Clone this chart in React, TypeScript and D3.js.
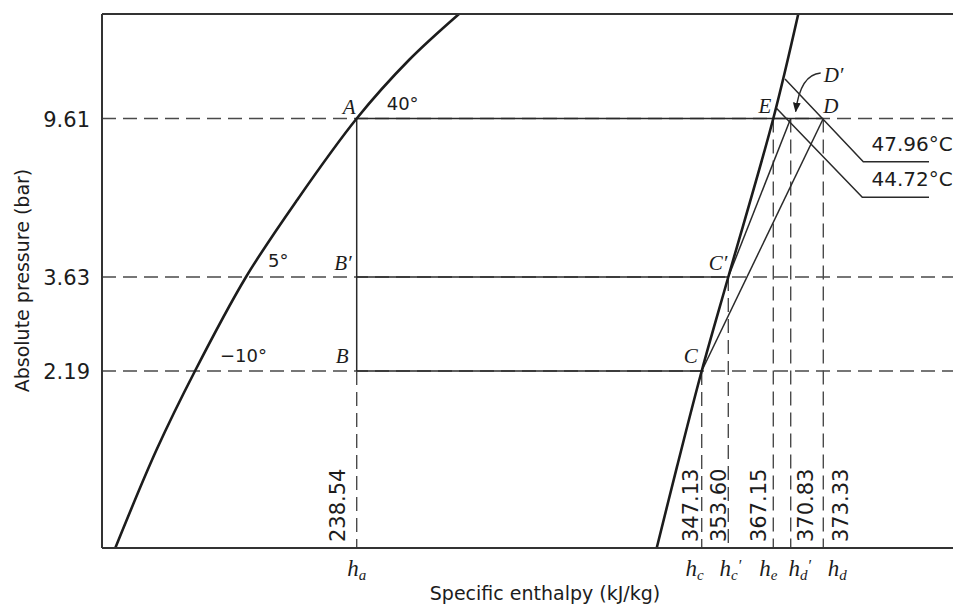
import React from "react";
import * as d3 from "d3";

const W = 953;
const H = 608;

// ---------- data ----------
const pressureLevels = [2.19, 3.63, 9.61]; // bar
const pressureTickLabels = ["2.19", "3.63", "9.61"];
const pressureExtent = [0.85, 18.3];

const enthalpyExtent = [159, 414];
const enthalpyMarks = [238.54, 347.13, 353.6, 367.15, 370.83, 373.33]; // kJ/kg
const enthalpyMarkLabels = ["238.54", "347.13", "353.60", "367.15", "370.83", "373.33"];
const enthalpySubscripts = ["a", "c", "c", "e", "d", "d"];
const enthalpyPrimes = ["", "", "′", "", "′", ""];

// saturated liquid line (h, p)
const liquidLineH = [163.15, 176.0, 188.04, 203.97, 219.9, 238.54, 255.0, 270.74];
const liquidLineP = [0.85, 1.435, 2.19, 3.63, 5.82, 9.61, 13.78, 18.3];
// saturated vapour line (h, p)
const vaporLineH = [332.97, 339.36, 347.13, 353.6, 367.15, 371.41];
const vaporLineP = [0.85, 1.313, 2.19, 3.63, 9.61, 18.3];

// saturation temperature labels on the liquid line
const satTempLabels = ["−10°", "5°", "40°"];
const satTempH = [188.04, 203.97, 238.54];
const satTempP = [2.19, 3.63, 9.61];

// cycle state points
const stateNames = ["A", "B′", "B", "C", "C′", "E", "D′", "D"];
const stateH = [238.54, 238.54, 238.54, 347.13, 353.6, 367.15, 370.83, 373.33];
const stateP = [9.61, 3.63, 2.19, 2.19, 3.63, 9.61, 9.61, 9.61];

// discharge isotherms
const isothermLabels = ["47.96°C", "44.72°C"];
const isothermThrough = ["D", "D′"];

// ---------- styles ----------
const INK = "#1c1c1c";
const THIN = "#2a2a2a";
const DASH = "#4a4a4a";
const SANS = "'DejaVu Sans', sans-serif";
const SERIF = "'Liberation Serif', 'DejaVu Serif', serif";

// label placements (pixel offsets)
const stateLabelStyle: Record<string, { dx: number; dy: number; anchor: string }> = {
  A: { dx: -1, dy: -5, anchor: "end" },
  "B′": { dx: -5, dy: -7, anchor: "end" },
  B: { dx: -8, dy: -8, anchor: "end" },
  C: { dx: -4, dy: -8, anchor: "end" },
  "C′": { dx: -1, dy: -7, anchor: "end" },
  E: { dx: -2, dy: -6, anchor: "end" },
  D: { dx: 0, dy: -6, anchor: "start" },
};
const satLabelOffset = [
  [25, -9],
  [22, -10],
  [30, -8.5],
];
const markLabelDx = [-11.7, -3.7, -2.5, -7, 22, 25];
const symbolDx = [0, -7, 2, -5, 9, 14];
const isoGeom = [
  { start: [-38.3, -39.5], bend: [40, 43.2] },
  { start: [-14, -10], bend: [71.6, 78.8] },
];

export default function App() {
  const x = d3
    .scaleLinear()
    .domain([enthalpyExtent[0], ...enthalpyMarks, enthalpyExtent[1]])
    .range([102, 356.7, 701.7, 728.3, 773.3, 790.7, 823.3, 953]);
  const y = d3
    .scaleLog()
    .domain([pressureExtent[0], ...pressureLevels, pressureExtent[1]])
    .range([548, 371, 277, 118.5, 14]);

  const line = d3
    .line<[number, number]>()
    .x((d) => x(d[0]))
    .y((d) => y(d[1]))
    .curve(d3.curveCatmullRom.alpha(0.5));

  const liquid = liquidLineH.map((h, i) => [h, liquidLineP[i]] as [number, number]);
  const vapor = vaporLineH.map((h, i) => [h, vaporLineP[i]] as [number, number]);

  const pt = (name: string) => {
    const i = stateNames.indexOf(name);
    return { x: x(stateH[i]), y: y(stateP[i]) };
  };
  const A = pt("A"), B = pt("B"), Bp = pt("B′"), C = pt("C"), Cp = pt("C′"), D = pt("D"), Dp = pt("D′");

  const x0 = x(enthalpyExtent[0]);
  const x1 = x(enthalpyExtent[1]);
  const yB = y(pressureExtent[0]);
  const yT = y(pressureExtent[1]);

  const markTop = [B.y, C.y, Cp.y, pt("E").y, Dp.y, D.y];

  const arrowStart = { x: Dp.x + 30, y: Dp.y - 45.5 };
  const arrowTip = { x: Dp.x + 5, y: Dp.y - 7 };

  return (
    <svg
      width={W}
      height={H}
      viewBox={`0 0 ${W} ${H}`}
      style={{ position: "absolute", left: 0, top: 0, display: "block", background: "#fff" }}
    >
      <defs>
        <marker id="arr" viewBox="0 0 10 10" refX="9" refY="5" markerWidth="7" markerHeight="7" orient="auto">
          <path d="M0,1 L10,5 L0,9 Z" fill={INK} />
        </marker>
      </defs>

      {/* dashed pressure lines */}
      {pressureLevels.map((p) => (
        <line key={"pd" + p} x1={x0} x2={x1} y1={y(p)} y2={y(p)} stroke={DASH} strokeWidth={1.4} strokeDasharray="14 7" />
      ))}
      {/* dashed enthalpy lines */}
      {enthalpyMarks.map((h, i) => (
        <line key={"hd" + h} x1={x(h)} x2={x(h)} y1={markTop[i]} y2={yB} stroke={DASH} strokeWidth={1.4} strokeDasharray="14 7" />
      ))}

      {/* cycle lines */}
      <g stroke={THIN} strokeWidth={1.5} fill="none">
        <line x1={A.x} x2={D.x} y1={A.y} y2={A.y} />
        <line x1={Bp.x} x2={Cp.x} y1={Bp.y} y2={Bp.y} />
        <line x1={B.x} x2={C.x} y1={B.y} y2={B.y} />
        <line x1={A.x} x2={B.x} y1={A.y} y2={B.y} />
        <line x1={C.x} x2={D.x} y1={C.y} y2={D.y} />
        <line x1={Cp.x} x2={Dp.x} y1={Cp.y} y2={Dp.y} />
      </g>

      {/* isotherms */}
      {isothermLabels.map((lab, i) => {
        const P = pt(isothermThrough[i]);
        const g = isoGeom[i];
        const sx = P.x + g.start[0], sy = P.y + g.start[1];
        const bx = P.x + g.bend[0], by = P.y + g.bend[1];
        return (
          <g key={lab}>
            <polyline points={`${sx},${sy} ${bx},${by} 929,${by}`} fill="none" stroke={THIN} strokeWidth={1.5} />
            <text x={871.5} y={by - 11} fontFamily={SANS} fontSize={20} fill={INK}>
              {lab}
            </text>
          </g>
        );
      })}

      {/* saturation curves */}
      <path d={line(liquid) || ""} fill="none" stroke={INK} strokeWidth={2.6} />
      <path d={line(vapor) || ""} fill="none" stroke={INK} strokeWidth={2.6} />

      {/* frame */}
      <g stroke="#333" strokeWidth={2} fill="none">
        <line x1={x0} x2={x1} y1={yT} y2={yT} />
        <line x1={x0} x2={x0} y1={yT} y2={yB} />
        <line x1={x0} x2={x1} y1={yB} y2={yB} />
      </g>

      {/* D' arrow */}
      <path
        d={`M${arrowStart.x},${arrowStart.y} C${arrowStart.x - 14},${arrowStart.y + 1} ${arrowTip.x + 3},${arrowTip.y - 24} ${arrowTip.x},${arrowTip.y}`}
        fill="none"
        stroke={THIN}
        strokeWidth={1.4}
        markerEnd="url(#arr)"
      />
      <text x={arrowStart.x + 3} y={arrowStart.y + 9} fontFamily={SERIF} fontStyle="italic" fontSize={21} fill={INK}>
        D′
      </text>

      {/* state labels */}
      {stateNames
        .filter((n) => stateLabelStyle[n])
        .map((n) => {
          const P = pt(n);
          const s = stateLabelStyle[n];
          return (
            <text key={n} x={P.x + s.dx} y={P.y + s.dy} textAnchor={s.anchor} fontFamily={SERIF} fontStyle="italic" fontSize={21} fill={INK}>
              {n}
            </text>
          );
        })}

      {/* saturation temperature labels */}
      {satTempLabels.map((t, i) => (
        <text
          key={t}
          x={x(satTempH[i]) + satLabelOffset[i][0]}
          y={y(satTempP[i]) + satLabelOffset[i][1]}
          fontFamily={SANS}
          fontSize={18}
          fill={INK}
        >
          {t}
        </text>
      ))}

      {/* pressure tick labels */}
      {pressureLevels.map((p, i) => (
        <text key={"pt" + p} x={90} y={y(p) + 8} textAnchor="end" fontFamily={SANS} fontSize={21} fill={INK}>
          {pressureTickLabels[i]}
        </text>
      ))}

      {/* enthalpy value labels (vertical) */}
      {enthalpyMarks.map((h, i) => (
        <text
          key={"hv" + h}
          transform={`translate(${x(h) + markLabelDx[i]},542) rotate(-90)`}
          fontFamily={SANS}
          fontSize={21}
          fill={INK}
        >
          {enthalpyMarkLabels[i]}
        </text>
      ))}

      {/* enthalpy symbols */}
      {enthalpyMarks.map((h, i) => (
        <text key={"hs" + h} x={x(h) + symbolDx[i]} y={576} textAnchor="middle" fontFamily={SERIF} fontStyle="italic" fontSize={23} fill={INK}>
          h
          <tspan fontSize={15} dy={4}>
            {enthalpySubscripts[i]}
          </tspan>
          <tspan fontSize={16} dy={-9}>
            {enthalpyPrimes[i]}
          </tspan>
        </text>
      ))}

      {/* axis titles */}
      <text x={545} y={600} textAnchor="middle" fontFamily={SANS} fontSize={19} fill={INK}>
        Specific enthalpy (kJ/kg)
      </text>
      <text transform="translate(29,280.5) rotate(-90)" textAnchor="middle" fontFamily={SANS} fontSize={19} fill={INK}>
        Absolute pressure (bar)
      </text>
    </svg>
  );
}
